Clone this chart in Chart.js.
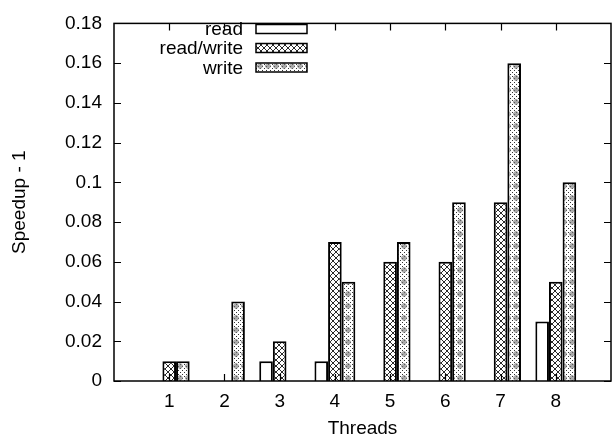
<!DOCTYPE html>
<html>
<head>
<meta charset="utf-8">
<script src="https://cdn.jsdelivr.net/npm/chart.js@4"></script>
<style>
  html, body { margin: 0; padding: 0; background: #fff; }
  #wrap { width: 613px; height: 440px; }
</style>
</head>
<body>
<div id="wrap"><canvas id="myChart" width="613" height="440"></canvas></div>
<script>
// dados
var threads = [1, 2, 3, 4, 5, 6, 7, 8];
var readVals = [0, 0, 0.01, 0.01, 0, 0, 0, 0.03];
var readWriteVals = [0.01, 0, 0.02, 0.07, 0.06, 0.06, 0.09, 0.05];
var writeVals = [0.01, 0.04, 0, 0.05, 0.07, 0.09, 0.16, 0.10];
var yTicks = [0, 0.02, 0.04, 0.06, 0.08, 0.1, 0.12, 0.14, 0.16, 0.18];

var FONT = 'Liberation Sans, Arial, sans-serif';
var FSIZE = 19;

// padrão "xxx" para read/write (pixels nítidos)
function crossPattern() {
  var c = document.createElement('canvas');
  c.width = 6; c.height = 6;
  var g = c.getContext('2d');
  g.fillStyle = '#fff';
  g.fillRect(0, 0, 6, 6);
  g.fillStyle = '#2a2a2a';
  for (var i = 0; i < 6; i++) {
    g.fillRect(i, i, 1, 1);
    g.fillRect(5 - i, i, 1, 1);
  }
  return g.createPattern(c, 'repeat');
}

// padrão pontilhado para write
function dotPattern() {
  var c = document.createElement('canvas');
  c.width = 8; c.height = 12;
  var g = c.getContext('2d');
  g.fillStyle = '#fff';
  g.fillRect(0, 0, 8, 12);
  g.fillStyle = '#333';
  for (var y = 0; y < 12; y += 2) {
    for (var x = (y % 4 === 0 ? 0 : 2); x < 8; x += 4) {
      g.fillRect(x, y, 1, 1);
    }
  }
  g.strokeStyle = '#777';
  g.lineWidth = 0.8;
  g.beginPath();
  g.arc(4, 6, 2.3, 0, Math.PI * 2);
  g.moveTo(4, 3.5); g.lineTo(4, 8.5);
  g.moveTo(1.5, 6); g.lineTo(6.5, 6);
  g.stroke();
  return g.createPattern(c, 'repeat');
}

function toPoints(vals) {
  return threads.map(function (t, i) { return { x: t, y: vals[i] }; });
}

// moldura, ticks internos e legenda no estilo gnuplot
var framePlugin = {
  id: 'frame',
  afterDatasetsDraw: function (chart) {
    var ctx = chart.ctx;
    var a = chart.chartArea;
    var xs = chart.scales.x, ys = chart.scales.y;
    ctx.save();
    ctx.strokeStyle = '#000';
    ctx.lineWidth = 1.5;
    ctx.strokeRect(a.left, a.top, a.right - a.left, a.bottom - a.top);
    ctx.beginPath();
    yTicks.forEach(function (v) {
      var py = Math.round(ys.getPixelForValue(v)) + 0.5;
      ctx.moveTo(a.left, py); ctx.lineTo(a.left + 7, py);
      ctx.moveTo(a.right, py); ctx.lineTo(a.right - 7, py);
    });
    threads.forEach(function (t) {
      var px = Math.round(xs.getPixelForValue(t)) + 0.5;
      ctx.moveTo(px, a.bottom); ctx.lineTo(px, a.bottom - 7);
      ctx.moveTo(px, a.top); ctx.lineTo(px, a.top + 7);
    });
    ctx.lineWidth = 1.2;
    ctx.stroke();

    // legenda
    ctx.font = FSIZE + 'px ' + FONT;
    ctx.textAlign = 'right';
    ctx.textBaseline = 'middle';
    var rows = [29, 48, 67.5];
    chart.data.datasets.forEach(function (ds, i) {
      var cy = rows[i];
      ctx.fillStyle = '#000';
      ctx.fillText(ds.label, 243, cy + 1);
      ctx.fillStyle = ds.backgroundColor;
      ctx.fillRect(256, cy - 4.5, 51, 9);
      ctx.lineWidth = 1.5;
      ctx.strokeStyle = '#000';
      ctx.strokeRect(256, cy - 4.5, 51, 9);
    });
    ctx.restore();
  }
};

var ctx = document.getElementById('myChart').getContext('2d');
var myChart = new Chart(ctx, {
  type: 'bar',
  data: {
    datasets: [
      { label: 'read', data: toPoints(readVals), backgroundColor: '#fff' },
      { label: 'read/write', data: toPoints(readWriteVals), backgroundColor: crossPattern() },
      { label: 'write', data: toPoints(writeVals), backgroundColor: dotPattern() }
    ]
  },
  options: {
    responsive: false,
    animation: false,
    devicePixelRatio: 1,
    layout: { padding: { top: 14, right: 2, left: 0, bottom: 0 } },
    datasets: {
      bar: {
        borderColor: '#000',
        borderWidth: 2,
        categoryPercentage: 0.74,
        barPercentage: 1.0
      }
    },
    plugins: {
      legend: { display: false },
      tooltip: { enabled: false }
    },
    scales: {
      x: {
        type: 'linear',
        min: 0,
        max: 9,
        offset: false,
        afterFit: function (s) { s.height = 59; },
        afterBuildTicks: function (s) {
          s.ticks = [0].concat(threads, [9]).map(function (v) { return { value: v }; });
        },
        ticks: {
          autoSkip: false,
          maxRotation: 0,
          padding: 0,
          color: '#000',
          font: { family: FONT, size: FSIZE },
          callback: function (v) { return (v >= 1 && v <= 8) ? String(v) : ''; }
        },
        // tickLength serve só para afastar os rótulos (grid não é desenhado)
        grid: { display: false, drawTicks: true, tickLength: 9 },
        border: { display: false },
        title: {
          display: true,
          text: 'Threads',
          color: '#000',
          font: { family: FONT, size: FSIZE },
          padding: { top: 0, bottom: 0 }
        }
      },
      y: {
        min: 0,
        max: 0.18,
        afterFit: function (s) { s.width = 114; },
        afterBuildTicks: function (s) {
          s.ticks = yTicks.map(function (v) { return { value: v }; });
        },
        ticks: {
          padding: 12,
          color: '#000',
          font: { family: FONT, size: FSIZE },
          callback: function (v) { return String(+v.toFixed(2)); }
        },
        grid: { display: false, drawTicks: false },
        border: { display: false },
        title: {
          display: true,
          text: 'Speedup - 1',
          color: '#000',
          font: { family: FONT, size: FSIZE },
          padding: { top: 8, bottom: 0 }
        }
      }
    }
  },
  plugins: [framePlugin]
});
</script>
</body>
</html>
